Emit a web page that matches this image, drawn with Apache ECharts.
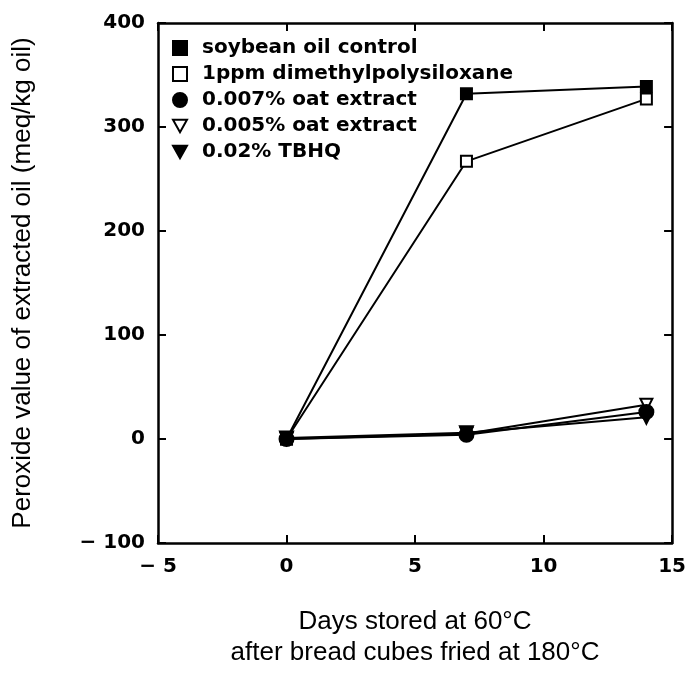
<!DOCTYPE html>
<html>
<head>
    <meta charset="utf-8"/>
    <title>Peroxide value</title>
    <script src="https://cdn.jsdelivr.net/npm/echarts@6/dist/echarts.min.js"></script>
</head>
<body style="margin:0">
<div id="main" style="width: 689px; height: 674px"></div>
<script type="text/javascript">
    // days stored
    var days = [0, 7, 14];
    var seriesNames = ['soybean oil control', '1ppm dimethylpolysiloxane', '0.007% oat extract',
        '0.005% oat extract', '0.02% TBHQ'];
    var soybean = [0, 332, 339];
    var dimethyl = [0, 267, 327];
    var oat007 = [0, 4, 26];
    var oat005 = [0, 5, 33];
    var tbhq = [1, 6, 21];
    var xTicks = [-5, 0, 5, 10, 15];
    var yTicks = [-100, 0, 100, 200, 300, 400];

    var triDown = 'path://M0,0 L10,0 L5,9 Z';
    var symbols = ['rect', 'rect', 'circle', triDown, triDown];
    var sizes = [11, 11, 14, 12, 13];
    var fills = ['#000', '#fff', '#000', '#fff', '#000'];
    var allData = [soybean, dimethyl, oat007, oat005, tbhq];

    function pairs(vals) {
        return days.map(function (d, i) { return [d, vals[i]]; });
    }

    function minus(v) {
        return String(v).replace('-', '\u2212 ');
    }

    var tickFont = {fontFamily: 'DejaVu Sans', fontWeight: 'bold', fontSize: 20, color: '#000', formatter: minus};
    var axisLine = {show: true, onZero: false, lineStyle: {color: '#000', width: 2.5}};
    var axisTick = {show: true, inside: true, length: 8, lineStyle: {color: '#000', width: 2}};

    var myChart = echarts.init(document.getElementById('main'));

    var series = allData.map(function (vals, i) {
        return {
            name: seriesNames[i],
            type: 'line',
            data: pairs(vals),
            symbol: symbols[i],
            symbolSize: sizes[i],
            lineStyle: {color: '#000', width: 2},
            itemStyle: {color: fills[i], borderColor: '#000', borderWidth: 2},
            z: 10 - i
        };
    });

    var option = {
        animation: false,
        grid: {left: 158, right: 13, top: 23, bottom: 131},
        legend: {
            orient: 'vertical',
            left: 167,
            top: 33,
            itemGap: 6,
            itemWidth: 14,
            itemHeight: 14,
            textStyle: {fontFamily: 'DejaVu Sans', fontWeight: 'bold', fontSize: 20, color: '#000',
                padding: [0, 0, 0, 10]},
            data: seriesNames.map(function (n, i) {
                return {name: n, icon: symbols[i],
                    itemStyle: {color: fills[i], borderColor: '#000', borderWidth: 2}};
            })
        },
        xAxis: [{
            type: 'value',
            min: xTicks[0],
            max: xTicks[xTicks.length - 1],
            interval: 5,
            axisLine: axisLine,
            axisTick: axisTick,
            splitLine: {show: false},
            axisLabel: Object.assign({margin: 14}, tickFont),
            name: 'Days stored at 60°C\nafter bread cubes fried at 180°C',
            nameLocation: 'middle',
            nameGap: 63,
            nameTextStyle: {fontFamily: 'Liberation Sans', fontSize: 26, color: '#000', lineHeight: 31}
        }, {
            type: 'value',
            position: 'top',
            min: xTicks[0],
            max: xTicks[xTicks.length - 1],
            interval: 5,
            axisLine: axisLine,
            axisTick: axisTick,
            splitLine: {show: false},
            axisLabel: {show: false}
        }],
        yAxis: [{
            type: 'value',
            min: yTicks[0],
            max: yTicks[yTicks.length - 1],
            interval: 100,
            axisLine: axisLine,
            axisTick: axisTick,
            splitLine: {show: false},
            axisLabel: Object.assign({margin: 13}, tickFont),
            name: 'Peroxide value of extracted oil (meq/kg oil)',
            nameLocation: 'middle',
            nameGap: 122,
            nameTextStyle: {fontFamily: 'Liberation Sans', fontSize: 26, color: '#000'}
        }, {
            type: 'value',
            position: 'right',
            min: yTicks[0],
            max: yTicks[yTicks.length - 1],
            interval: 100,
            axisLine: axisLine,
            axisTick: axisTick,
            splitLine: {show: false},
            axisLabel: {show: false}
        }],
        series: series
    };

    myChart.setOption(option);
</script>
</body>
</html>
